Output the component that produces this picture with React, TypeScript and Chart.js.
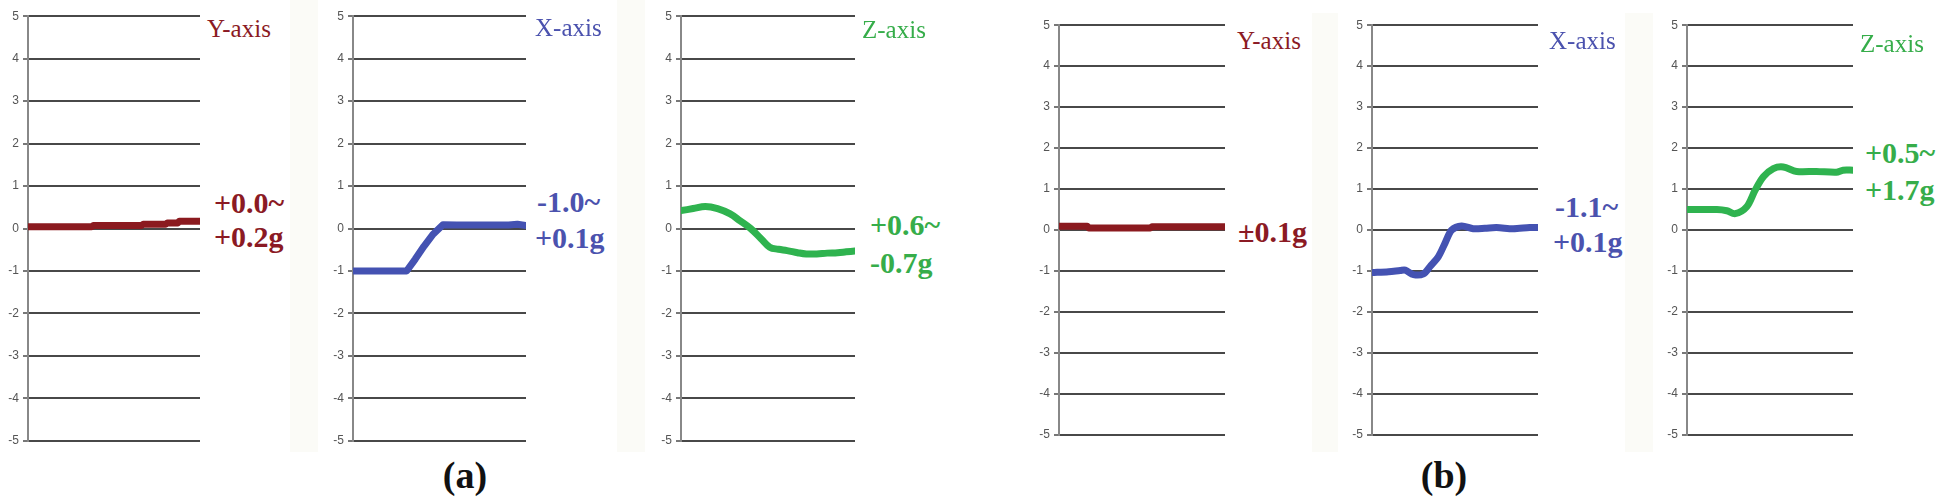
import React, { useEffect, useRef } from "react";
import { Chart, registerables } from "chart.js";

Chart.register(...registerables);

// ---------- data (time in % of record, acceleration in g) ----------
const yMin = -5;
const yMax = 5;
const yStep = 1;

const aY_t = [0, 37, 38, 66, 67, 80, 81, 87, 88, 100];
const aY_v = [0.04, 0.04, 0.07, 0.07, 0.1, 0.1, 0.13, 0.13, 0.17, 0.17];

const aX_t = [0, 31, 36, 41, 46, 52, 60, 70, 80, 90, 95, 100];
const aX_v = [-1.0, -1.0, -0.72, -0.42, -0.15, 0.09, 0.08, 0.08, 0.08, 0.08, 0.1, 0.07];

const aZ_t = [0, 7, 14, 21, 28, 34, 40, 46, 51, 56, 61, 67, 72, 78, 84, 90, 95, 100];
const aZ_v = [0.42, 0.47, 0.52, 0.47, 0.35, 0.18, 0.0, -0.24, -0.44, -0.49, -0.52, -0.57, -0.6, -0.6, -0.58, -0.57, -0.55, -0.53];

const bY_t = [0, 17, 18, 55, 56, 100];
const bY_v = [0.09, 0.09, 0.05, 0.05, 0.08, 0.08];

const bX_t = [0, 10, 17, 20, 25, 31, 35, 40, 44, 48, 54, 61, 68, 75, 85, 95, 100];
const bX_v = [-1.04, -1.02, -0.99, -0.98, -1.09, -1.07, -0.89, -0.65, -0.32, 0.0, 0.1, 0.03, 0.04, 0.06, 0.03, 0.06, 0.06];

const bZ_t = [0, 18, 24, 29, 36, 41, 46, 52, 58, 66, 78, 90, 94, 100];
const bZ_v = [0.5, 0.5, 0.47, 0.4, 0.57, 0.97, 1.3, 1.5, 1.54, 1.43, 1.43, 1.41, 1.46, 1.46];

const RED = "#8b1a1f";
const BLUE = "#4452b2";
const GREEN = "#2fb34f";
const RED_T = "#8b1a24";
const BLUE_T = "#4b52ae";
const GREEN_T = "#36ad4a";

type Panel = {
  t: number[];
  v: number[];
  color: string;
  tension: number;
  axisX: number;
  gridEnd: number;
  top: number;
  bottom: number;
};

const panels: Panel[] = [
  { t: aY_t, v: aY_v, color: RED, tension: 0, axisX: 28, gridEnd: 200, top: 15, bottom: 442 },
  { t: aX_t, v: aX_v, color: BLUE, tension: 0, axisX: 353, gridEnd: 526, top: 15, bottom: 442 },
  { t: aZ_t, v: aZ_v, color: GREEN, tension: 0.4, axisX: 681, gridEnd: 855, top: 15, bottom: 442 },
  { t: bY_t, v: bY_v, color: RED, tension: 0, axisX: 1059, gridEnd: 1225, top: 24, bottom: 436 },
  { t: bX_t, v: bX_v, color: BLUE, tension: 0.3, axisX: 1372, gridEnd: 1538, top: 24, bottom: 436 },
  { t: bZ_t, v: bZ_v, color: GREEN, tension: 0.3, axisX: 1687, gridEnd: 1853, top: 24, bottom: 436 },
];

type Lbl = { text: string; x: number; bl: number; size: number; bold: boolean; color: string; center?: boolean };

const labels: Lbl[] = [
  { text: "Y-axis", x: 207, bl: 37, size: 25, bold: false, color: RED_T },
  { text: "X-axis", x: 535, bl: 36, size: 25, bold: false, color: BLUE_T },
  { text: "Z-axis", x: 862, bl: 38, size: 25, bold: false, color: GREEN_T },
  { text: "+0.0~", x: 214, bl: 213, size: 30, bold: true, color: RED_T },
  { text: "+0.2g", x: 214, bl: 247, size: 30, bold: true, color: RED_T },
  { text: "-1.0~", x: 537, bl: 212, size: 30, bold: true, color: BLUE_T },
  { text: "+0.1g", x: 535, bl: 248, size: 30, bold: true, color: BLUE_T },
  { text: "+0.6~", x: 870, bl: 235, size: 30, bold: true, color: GREEN_T },
  { text: "-0.7g", x: 870, bl: 273, size: 30, bold: true, color: GREEN_T },
  { text: "(a)", x: 465, bl: 488, size: 38, bold: true, color: "#111", center: true },
  { text: "Y-axis", x: 1237, bl: 49, size: 25, bold: false, color: RED_T },
  { text: "X-axis", x: 1549, bl: 49, size: 25, bold: false, color: BLUE_T },
  { text: "Z-axis", x: 1860, bl: 52, size: 25, bold: false, color: GREEN_T },
  { text: "±0.1g", x: 1238, bl: 242, size: 30, bold: true, color: RED_T },
  { text: "-1.1~", x: 1555, bl: 217, size: 30, bold: true, color: BLUE_T },
  { text: "+0.1g", x: 1553, bl: 252, size: 30, bold: true, color: BLUE_T },
  { text: "+0.5~", x: 1865, bl: 163, size: 30, bold: true, color: GREEN_T },
  { text: "+1.7g", x: 1865, bl: 200, size: 30, bold: true, color: GREEN_T },
  { text: "(b)", x: 1444, bl: 488, size: 38, bold: true, color: "#111", center: true },
];

const strips = [
  { x: 290, y: 0, w: 28, h: 452 },
  { x: 617, y: 0, w: 28, h: 452 },
  { x: 1312, y: 13, w: 26, h: 439 },
  { x: 1625, y: 13, w: 28, h: 439 },
];

const AXIS_W = 30;
const PAD_R = 4;
const PAD_V = 10;

function PanelChart({ p }: { p: Panel }) {
  const ref = useRef<HTMLCanvasElement | null>(null);
  const W = p.gridEnd - p.axisX + AXIS_W + PAD_R;
  const H = p.bottom - p.top + PAD_V * 2;
  useEffect(() => {
    if (!ref.current) return;
    const chart = new Chart(ref.current, {
      type: "line",
      data: {
        datasets: [
          {
            data: p.t.map((x, i) => ({ x, y: p.v[i] })),
            borderColor: p.color,
            backgroundColor: p.color,
            borderWidth: 7,
            pointRadius: 0,
            tension: p.tension,
            borderCapStyle: "round",
            borderJoinStyle: "round",
            fill: false,
          },
        ],
      },
      options: {
        responsive: false,
        animation: false,
        events: [],
        layout: { padding: { left: 0, right: PAD_R, top: PAD_V, bottom: PAD_V } },
        plugins: { legend: { display: false }, tooltip: { enabled: false } },
        scales: {
          x: { type: "linear", min: 0, max: 100, display: false },
          y: {
            min: yMin,
            max: yMax,
            ticks: {
              stepSize: yStep,
              color: "#555",
              font: { family: "'Liberation Sans', Arial, sans-serif", size: 12 },
              padding: 4,
            },
            afterFit: (s: any) => {
              s.width = AXIS_W;
            },
            grid: { color: "#484848", lineWidth: 2, tickLength: 5, tickColor: "#777" },
            border: { color: "#888", width: 2 },
          },
        },
      },
    } as any);
    return () => chart.destroy();
  }, []);
  return (
    <canvas
      ref={ref}
      width={W}
      height={H}
      style={{ position: "absolute", left: p.axisX - AXIS_W, top: p.top - PAD_V, width: W, height: H }}
    />
  );
}

export default function App() {
  return (
    <div
      style={{
        position: "absolute",
        left: 0,
        top: 0,
        width: 1948,
        height: 500,
        background: "#fff",
        overflow: "hidden",
      }}
    >
      {strips.map((s, i) => (
        <div
          key={"s" + i}
          style={{ position: "absolute", left: s.x, top: s.y, width: s.w, height: s.h, background: "#fbfbf7" }}
        />
      ))}
      {panels.map((p, i) => (
        <PanelChart key={"p" + i} p={p} />
      ))}
      {labels.map((l, i) => (
        <div
          key={"l" + i}
          style={{
            position: "absolute",
            left: l.center ? l.x - 100 : l.x,
            width: l.center ? 200 : undefined,
            textAlign: l.center ? "center" : "left",
            top: l.bl - 0.8375 * l.size,
            fontFamily: "'Liberation Serif', 'Times New Roman', serif",
            fontSize: l.size,
            lineHeight: l.size + "px",
            fontWeight: l.bold ? 700 : 400,
            color: l.color,
            whiteSpace: "nowrap",
          }}
        >
          {l.text}
        </div>
      ))}
    </div>
  );
}
